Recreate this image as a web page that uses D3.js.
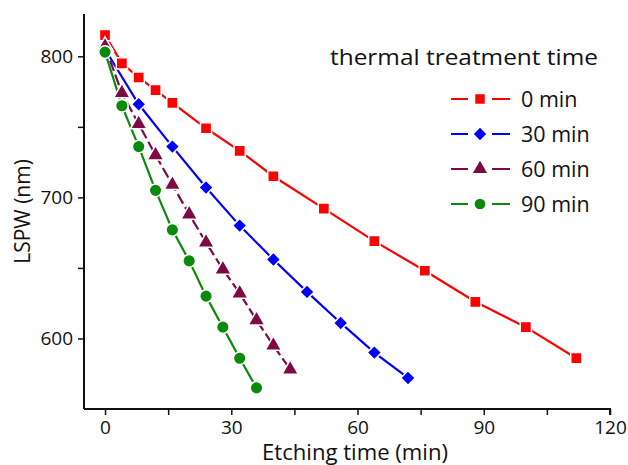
<!DOCTYPE html>
<html>
<head>
<meta charset="utf-8">
<script src="https://cdn.jsdelivr.net/npm/d3@7"></script>
<style>
  body { margin: 0; background: #fff; }
  svg text { font-family: "Open Sans", sans-serif; fill: #111; }
</style>
</head>
<body>
<div id="chart"></div>
<script>
// etching time (min) and LSPW (nm) for each thermal treatment time
var time0 = [0, 4, 8, 12, 16, 24, 32, 40, 52, 64, 76, 88, 100, 112];
var lspw0 = [815, 795, 785, 776, 767, 749, 733, 715, 692, 669, 648, 626, 608, 586];

var time30 = [0, 8, 16, 24, 32, 40, 48, 56, 64, 72];
var lspw30 = [805, 766, 736, 707, 680, 656, 633, 611, 590, 572];

var time60 = [0, 4, 8, 12, 16, 20, 24, 28, 32, 36, 40, 44];
var lspw60 = [807, 774, 752, 730, 709, 688, 668, 649, 632, 613, 595, 578];

var time90 = [0, 4, 8, 12, 16, 20, 24, 28, 32, 36];
var lspw90 = [803, 765, 736, 705, 677, 655, 630, 608, 586, 565];

var seriesNames = ["0 min", "30 min", "60 min", "90 min"];
var xTicks = [0, 30, 60, 90, 120];
var yTicks = [600, 700, 800];

(function() {
    var width = 628, height = 465;
    var margin = { left: 84, right: 18, top: 14, bottom: 56 };

    var svg = d3.select("#chart").append("svg")
        .attr("width", width)
        .attr("height", height);

    var x = d3.scaleLinear().domain([-5, 120]).range([margin.left, width - margin.right]);
    var y = d3.scaleLinear().domain([550, 830]).range([height - margin.bottom, margin.top]);

    var series = [
        { name: seriesNames[0], xs: time0, ys: lspw0, color: "#ff0000", shape: d3.symbolSquare, size: 125, rot: 0, dash: null },
        { name: seriesNames[1], xs: time30, ys: lspw30, color: "#0000ff", shape: d3.symbolSquare, size: 105, rot: 45, dash: null },
        { name: seriesNames[2], xs: time60, ys: lspw60, color: "#7d0a45", shape: d3.symbolTriangle, size: 120, rot: 0, dash: "11,4" },
        { name: seriesNames[3], xs: time90, ys: lspw90, color: "#0a8a0a", shape: d3.symbolCircle, size: 125, rot: 0, dash: null }
    ];

    // axes
    var xAxis = d3.axisBottom(x).tickValues(d3.range(0, 121, 15))
        .tickSize(6).tickFormat(function(d) { return xTicks.indexOf(d) >= 0 ? d : ""; });
    var yAxis = d3.axisLeft(y).tickValues(d3.range(600, 801, 50))
        .tickSize(6).tickFormat(function(d) { return yTicks.indexOf(d) >= 0 ? d : ""; });

    var gx = svg.append("g")
        .attr("transform", "translate(0," + (height - margin.bottom) + ")")
        .call(xAxis);
    var gy = svg.append("g")
        .attr("transform", "translate(" + margin.left + ",0)")
        .call(yAxis);

    [gx, gy].forEach(function(g) {
        g.select(".domain").attr("stroke", "#111").attr("stroke-width", 2);
        g.selectAll(".tick line").attr("stroke", "#111").attr("stroke-width", 1.5);
        g.selectAll(".tick text").attr("font-size", 19).style("font-family", "'Open Sans', sans-serif").attr("fill", "#111");
    });
    gx.select(".domain").attr("d", "M" + margin.left + ",0H" + (width - margin.right) + "V6");
    gy.select(".domain").attr("d", "M0," + margin.top + "V" + (height - margin.bottom));
    gx.selectAll(".tick text").attr("y", 8).attr("dy", "0.9em");
    gy.selectAll(".tick text").attr("x", -11);

    svg.append("text")
        .attr("x", 355)
        .attr("y", 460)
        .attr("text-anchor", "middle")
        .attr("font-size", 21)
        .attr("textLength", 186)
        .attr("lengthAdjust", "spacingAndGlyphs")
        .text("Etching time (min)");

    svg.append("text")
        .attr("transform", "translate(30," + ((margin.top + height - margin.bottom) / 2) + ") rotate(-90)")
        .attr("text-anchor", "middle")
        .attr("font-size", 21)
        .text("LSPW (nm)");

    // lines and markers
    var line = d3.line()
        .x(function(d) { return x(d[0]); })
        .y(function(d) { return y(d[1]); });

    series.forEach(function(s) {
        var pts = s.xs.map(function(t, i) { return [t, s.ys[i]]; });
        svg.append("path")
            .datum(pts)
            .attr("d", line)
            .attr("fill", "none")
            .attr("stroke", s.color)
            .attr("stroke-width", 2.2)
            .attr("stroke-dasharray", s.dash);
    });

    series.forEach(function(s) {
        var pts = s.xs.map(function(t, i) { return [t, s.ys[i]]; });
        svg.append("g").selectAll("path")
            .data(pts)
            .enter().append("path")
            .attr("transform", function(d) { return "translate(" + x(d[0]) + "," + y(d[1]) + ") rotate(" + s.rot + ")"; })
            .attr("d", d3.symbol().type(s.shape).size(s.size))
            .attr("fill", s.color)
            .attr("stroke", "#fff")
            .attr("stroke-width", 1.5);
    });

    // legend
    var legend = svg.append("g");
    legend.append("text")
        .attr("x", 464)
        .attr("y", 65)
        .attr("text-anchor", "middle")
        .attr("font-size", 22)
        .attr("textLength", 268)
        .attr("lengthAdjust", "spacingAndGlyphs")
        .text("thermal treatment time");

    var rows = legend.selectAll(".row")
        .data(series)
        .enter().append("g")
        .attr("class", "row")
        .attr("transform", function(d, i) { return "translate(480," + (99 + i * 35) + ")"; });

    rows.append("path")
        .attr("d", "M-29,0H-12M12,0H30")
        .attr("stroke", function(d) { return d.color; })
        .attr("stroke-width", 2.2);
    rows.append("path")
        .attr("transform", function(d) { return "rotate(" + d.rot + ")"; })
        .attr("d", function(d) { return d3.symbol().type(d.shape).size(d.size * 0.72)(); })
        .attr("fill", function(d) { return d.color; });
    rows.append("text")
        .attr("x", 41)
        .attr("dy", "0.36em")
        .attr("font-size", 21.5)
        .text(function(d) { return d.name; });
})();
</script>
</body>
</html>
